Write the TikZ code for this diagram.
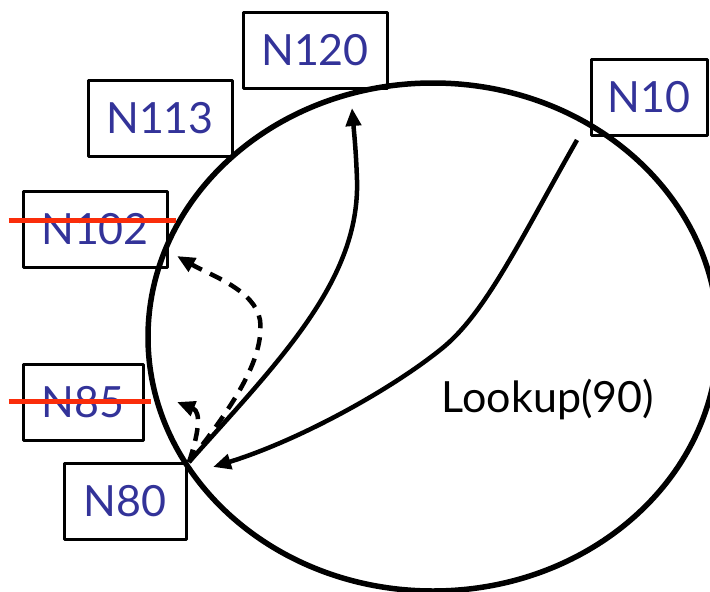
\documentclass[tikz,border=0pt]{standalone}
\usepackage{fontspec}
\setmainfont{Lato}
\usepackage{tikz}
\usetikzlibrary{arrows.meta}
\usetikzlibrary{calc}

\definecolor{nodeblue}{RGB}{51,51,153}
\definecolor{strikered}{RGB}{250,45,10}

\begin{document}
\begin{tikzpicture}[x=1pt, y=-1pt, line join=round,
        ring_style/.style={draw=black, line width=5.5pt},
        node_style/.style={rectangle, draw=black, line width=3pt, minimum height=76pt, inner xsep=0pt,
                           text=nodeblue, font=\fontsize{43}{43}\selectfont},
        label_style/.style={text=black, font=\fontsize{43}{43}\selectfont},
        edge_style/.style={draw=black, line width=4.5pt, -{Triangle[length=18pt,width=15pt]}},
        dashed_edge_style/.style={edge_style, dash pattern=on 13pt off 9pt},
        strike_style/.style={draw=strikered, line width=5pt}]

        \useasboundingbox (0,0) rectangle (710,592);
        \clip (0,0) rectangle (710,592);

        \draw [ring_style] (433,337) ellipse [x radius=285pt, y radius=254pt];

        \node [node_style, minimum width=144pt] (n120) at (315,50) {N120};

        \node [node_style, minimum width=144pt] (n113) at (160,118) {N113};

        \node [node_style, minimum width=144pt] (n102) at (95,229) {N102};

        \node [node_style, minimum width=120pt] (n85) at (83,402) {N85};

        \node [node_style, minimum width=122pt] (n80) at (125,501) {N80};

        \node [node_style, minimum width=116pt] (n10) at (649,97) {N10};

        \node [label_style] (lookup) at (548,400) {Lookup(90)};

        \coordinate (p80) at (189,462);
        \coordinate (p10) at (577,140);
        \coordinate (t120) at (352,108);
        \coordinate (t102) at (177,256);
        \coordinate (t85) at (177,402);
        \coordinate (t80) at (213,467);

        \draw [strike_style] ($(n102.west)+(-13,-9)$) -- ($(n102.east)+(7,-9)$);

        \draw [strike_style] ($(n85.west)+(-13,-1)$) -- ($(n85.east)+(6,-1)$);

        \draw [edge_style] (p10) .. controls (520,240) and (485,315) .. (440,350)
                                 .. controls (390,390) and (300,440) .. (t80);

        \draw [edge_style] (p80) .. controls (280,360) and (360,280) .. (357,180)
                                 .. controls (356,150) and (354,132) .. (t120);

        \draw [dashed_edge_style] (p80) .. controls (230,410) and (265,360) .. (260,320)
                                        .. controls (255,290) and (210,275) .. (t102);

        \draw [dashed_edge_style] (p80) .. controls (198,435) and (202,412) .. (t85);

\end{tikzpicture}
\end{document}
